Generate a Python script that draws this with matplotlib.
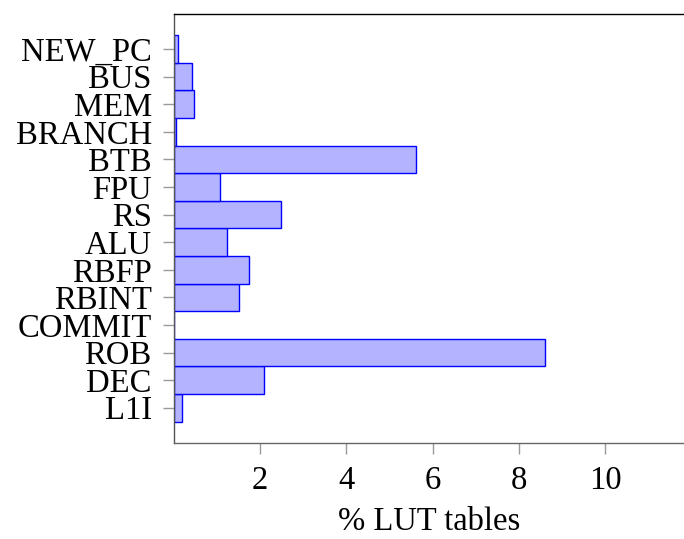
import matplotlib.pyplot as plt

# categories from bottom to top
units = ['L1I', 'DEC', 'ROB', 'COMMIT', 'RBINT', 'RBFP', 'ALU', 'RS',
         'FPU', 'BTB', 'BRANCH', 'MEM', 'BUS', 'NEW_PC']
lut_pct = [0.19, 2.08, 8.61, 0.01, 1.51, 1.73, 1.24, 2.48,
           1.06, 5.61, 0.04, 0.46, 0.41, 0.10]
x_ticks = [2, 4, 6, 8, 10]

plt.rcParams['font.family'] = ['Liberation Serif', 'DejaVu Serif']
plt.rcParams['font.size'] = 23.5

fig = plt.figure(figsize=(6.84, 5.39), dpi=100)
ax = fig.add_axes([0.2544, 0.178, 0.7456, 0.796])

pos = range(len(units))
ax.barh(pos, lut_pct, height=1.0, color='#b3b3ff', edgecolor='#0000ff', linewidth=1.0)

ax.set_yticks(list(pos))
ax.set_yticklabels(units)
ax.set_xticks(x_ticks)
ax.set_xlim(0, 11.83)
ax.set_ylim(-1.28, 14.27)
ax.set_xlabel('% LUT tables', labelpad=8)

ax.spines['right'].set_visible(False)
ax.spines['top'].set_color('black')
ax.spines['left'].set_color('#555555')
ax.spines['bottom'].set_color('#666666')
for s in ('top', 'left', 'bottom'):
    ax.spines[s].set_linewidth(1.0)
ax.tick_params(axis='both', direction='out', length=8, width=1.0, color='#999999', pad=8)

fig.savefig('out.png', dpi=100)
